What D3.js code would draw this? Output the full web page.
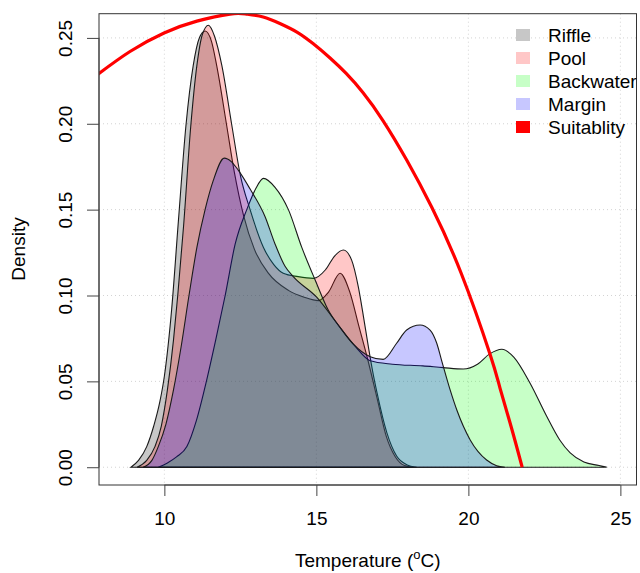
<!DOCTYPE html>
<html><head><meta charset="utf-8">
<script src="https://cdn.jsdelivr.net/npm/d3@7"></script>
<style>body{margin:0;background:#fff}svg{display:block}text{font-family:"Liberation Sans",Arial,sans-serif;fill:#000}</style>
</head><body><svg id="c" width="640" height="573"></svg>
<script>
// ---- data (temperature °C, density) ----
const riffle = [[8.9,0],[9.15,0.004],[9.42,0.012],[9.65,0.024],[9.85,0.038],[10.0,0.053],[10.24,0.092],[10.46,0.143],[10.71,0.199],[10.95,0.234],[11.15,0.25],[11.34,0.254],[11.55,0.248],[11.72,0.234],[12.05,0.199],[12.3,0.172],[12.6,0.147],[12.96,0.127],[13.42,0.113],[14.08,0.103],[14.6,0.099],[15.07,0.097],[15.4,0.102],[15.78,0.113],[16.1,0.102],[16.4,0.082],[16.7,0.062],[17.0,0.04],[17.3,0.018],[17.6,0.006],[17.9,0.001],[18.2,0]];
const pool = [[9.1,0],[9.42,0.004],[9.69,0.012],[9.9,0.024],[10.1,0.045],[10.3,0.074],[10.44,0.1],[10.63,0.14],[10.87,0.199],[11.07,0.234],[11.25,0.252],[11.45,0.2574],[11.65,0.251],[11.89,0.234],[12.22,0.199],[12.5,0.17],[12.82,0.15],[13.26,0.128],[13.6,0.118],[13.91,0.113],[14.4,0.111],[14.9,0.11],[15.3,0.115],[15.6,0.123],[15.89,0.1265],[16.16,0.1206],[16.38,0.105],[16.55,0.0876],[16.71,0.0702],[16.85,0.056],[17.0,0.043],[17.32,0.02],[17.64,0.0065],[17.97,0.0015],[18.3,0]];
const backwater = [[9.8,0],[10.1,0.0025],[10.4,0.006],[10.74,0.012],[11.05,0.027],[11.39,0.0506],[11.7,0.075],[12.0,0.1],[12.33,0.13],[12.71,0.15],[13.0,0.162],[13.26,0.1682],[13.64,0.163],[14.08,0.15],[14.52,0.128],[14.96,0.109],[15.39,0.0915],[15.84,0.08],[16.3,0.07],[16.77,0.062],[17.5,0.06],[18.5,0.059],[19.17,0.058],[19.83,0.0572],[20.3,0.06],[20.7,0.066],[21.1,0.0687],[21.5,0.064],[22.03,0.0489],[22.58,0.0295],[23.0,0.016],[23.35,0.0083],[23.8,0.003],[24.3,0.001],[24.55,0]];
const margin = [[9.3,0],[9.59,0.004],[9.8,0.012],[10.05,0.025],[10.3,0.045],[10.55,0.07],[10.81,0.1],[11.07,0.128],[11.34,0.15],[11.61,0.167],[11.97,0.18],[12.2,0.178],[12.43,0.173],[12.82,0.162],[13.31,0.146],[13.64,0.13],[13.97,0.117],[14.24,0.111],[15.01,0.099],[15.67,0.084],[16.2,0.072],[16.77,0.0644],[17.2,0.0628],[17.64,0.0722],[17.97,0.0799],[18.41,0.0828],[18.74,0.0799],[18.96,0.0722],[19.13,0.0615],[19.4,0.045],[19.62,0.0333],[20.06,0.0159],[20.6,0.0042],[20.93,0.0009],[21.2,0]];
const suitability = [[7.78,0.2284],[8.87,0.2421],[9.99,0.2529],[11.07,0.2598],[12.16,0.2639],[12.69,0.2639],[13.25,0.2622],[13.8,0.2584],[14.36,0.2534],[14.89,0.2467],[15.45,0.2383],[15.98,0.2293],[16.53,0.2182],[17.19,0.2019],[17.98,0.1786],[18.8,0.1512],[19.76,0.1131],[20.71,0.0659],[21.04,0.0461],[21.4,0.024],[21.77,0]];
const seriesNames = ["Riffle","Pool","Backwater","Margin"];
const legendNames = ["Riffle","Pool","Backwater","Margin","Suitablity"];
const xTicks = [10,15,20,25];
const yTicks = [0,0.05,0.10,0.15,0.20,0.25];
const xTitle = "Temperature (";
const yTitle = "Density";

// ---- styles ----
const fills = ["rgba(0,0,0,0.22)","rgba(255,0,0,0.22)","rgba(0,255,0,0.22)","rgba(0,0,255,0.22)"];
const legendFills = ["#c7c7c7","#ffc7c7","#c7ffc7","#c7c7ff","#ff0000"];
const L=99, R=636.5, T=13.7, B=485;

const svg = d3.select("#c");
const x = d3.scaleLinear().domain([7.85,25.53]).range([L,R]);
const y = d3.scaleLinear().domain([-0.01035,0.2641]).range([B,T]);

svg.append("defs").append("clipPath").attr("id","clip").append("rect")
  .attr("x",L).attr("y",T).attr("width",R-L).attr("height",B-T);

// grid
const g = svg.append("g");
g.selectAll(".gx").data(xTicks).join("line")
  .attr("x1",d=>x(d)).attr("x2",d=>x(d)).attr("y1",T).attr("y2",B)
  .attr("stroke","#d3d3d3").attr("stroke-dasharray","1,3");
g.selectAll(".gy").data(yTicks).join("line")
  .attr("y1",d=>y(d)).attr("y2",d=>y(d)).attr("x1",L).attr("x2",R)
  .attr("stroke","#d3d3d3").attr("stroke-dasharray","1,3");

// densities
const area = d3.area().x(d=>x(d[0])).y0(y(0)).y1(d=>y(d[1])).curve(d3.curveMonotoneX);
const plot = svg.append("g").attr("clip-path","url(#clip)");
[riffle,pool,backwater,margin].forEach((s,i)=>{
  plot.append("path").datum(s).attr("d",area)
    .attr("fill",fills[i]).attr("stroke","#1a1a1a").attr("stroke-width",1.1);
});
// suitability
const line = d3.line().x(d=>x(d[0])).y(d=>y(d[1])).curve(d3.curveNatural);
plot.append("path").datum(suitability).attr("d",line)
  .attr("fill","none").attr("stroke","#ff0000").attr("stroke-width",3.2);

// box
svg.append("rect").attr("x",L).attr("y",T).attr("width",R-L).attr("height",B-T)
  .attr("fill","none").attr("stroke","#333").attr("stroke-width",1);

// axes
const xa = svg.append("g").attr("transform",`translate(0,${B})`)
  .call(d3.axisBottom(x).tickValues(xTicks).tickSize(11).tickPadding(16).tickFormat(d3.format("d")));
const ya = svg.append("g").attr("transform",`translate(${L},0)`)
  .call(d3.axisLeft(y).tickValues(yTicks).tickSize(12).tickFormat(d3.format(".2f")));
[xa,ya].forEach(a=>{
  a.select(".domain").remove();
  a.selectAll("line").attr("stroke","#444");
  a.selectAll("text").style("font-size","19px").attr("fill","#000");
});
ya.selectAll(".tick text").attr("transform","rotate(-90)").attr("text-anchor","middle")
  .attr("x",0).attr("y",-27).attr("dy","0");
svg.append("line").attr("x1",L).attr("x2",L).attr("y1",y(0)).attr("y2",y(0.25)).attr("stroke","#444");
svg.append("line").attr("y1",B).attr("y2",B).attr("x1",x(10)).attr("x2",x(25)).attr("stroke","#444");

// titles
const xt = svg.append("text").attr("x",(L+R)/2).attr("y",567).attr("text-anchor","middle").style("font-size","19px");
xt.append("tspan").text(xTitle);
xt.append("tspan").text("o").style("font-size","13px").attr("dy",-8);
xt.append("tspan").text("C)").attr("dy",8);
svg.append("text").attr("transform","translate(25,249) rotate(-90)").attr("text-anchor","middle")
  .style("font-size","19px").text(yTitle);

// legend
const lg = svg.append("g");
legendNames.forEach((n,i)=>{
  const cy = 35 + i*23;
  lg.append("rect").attr("x",516).attr("y",cy-6).attr("width",14).attr("height",12).attr("fill",legendFills[i]);
  lg.append("text").attr("x",548).attr("y",cy+7).style("font-size","19px").text(n);
});
</script></body></html>
